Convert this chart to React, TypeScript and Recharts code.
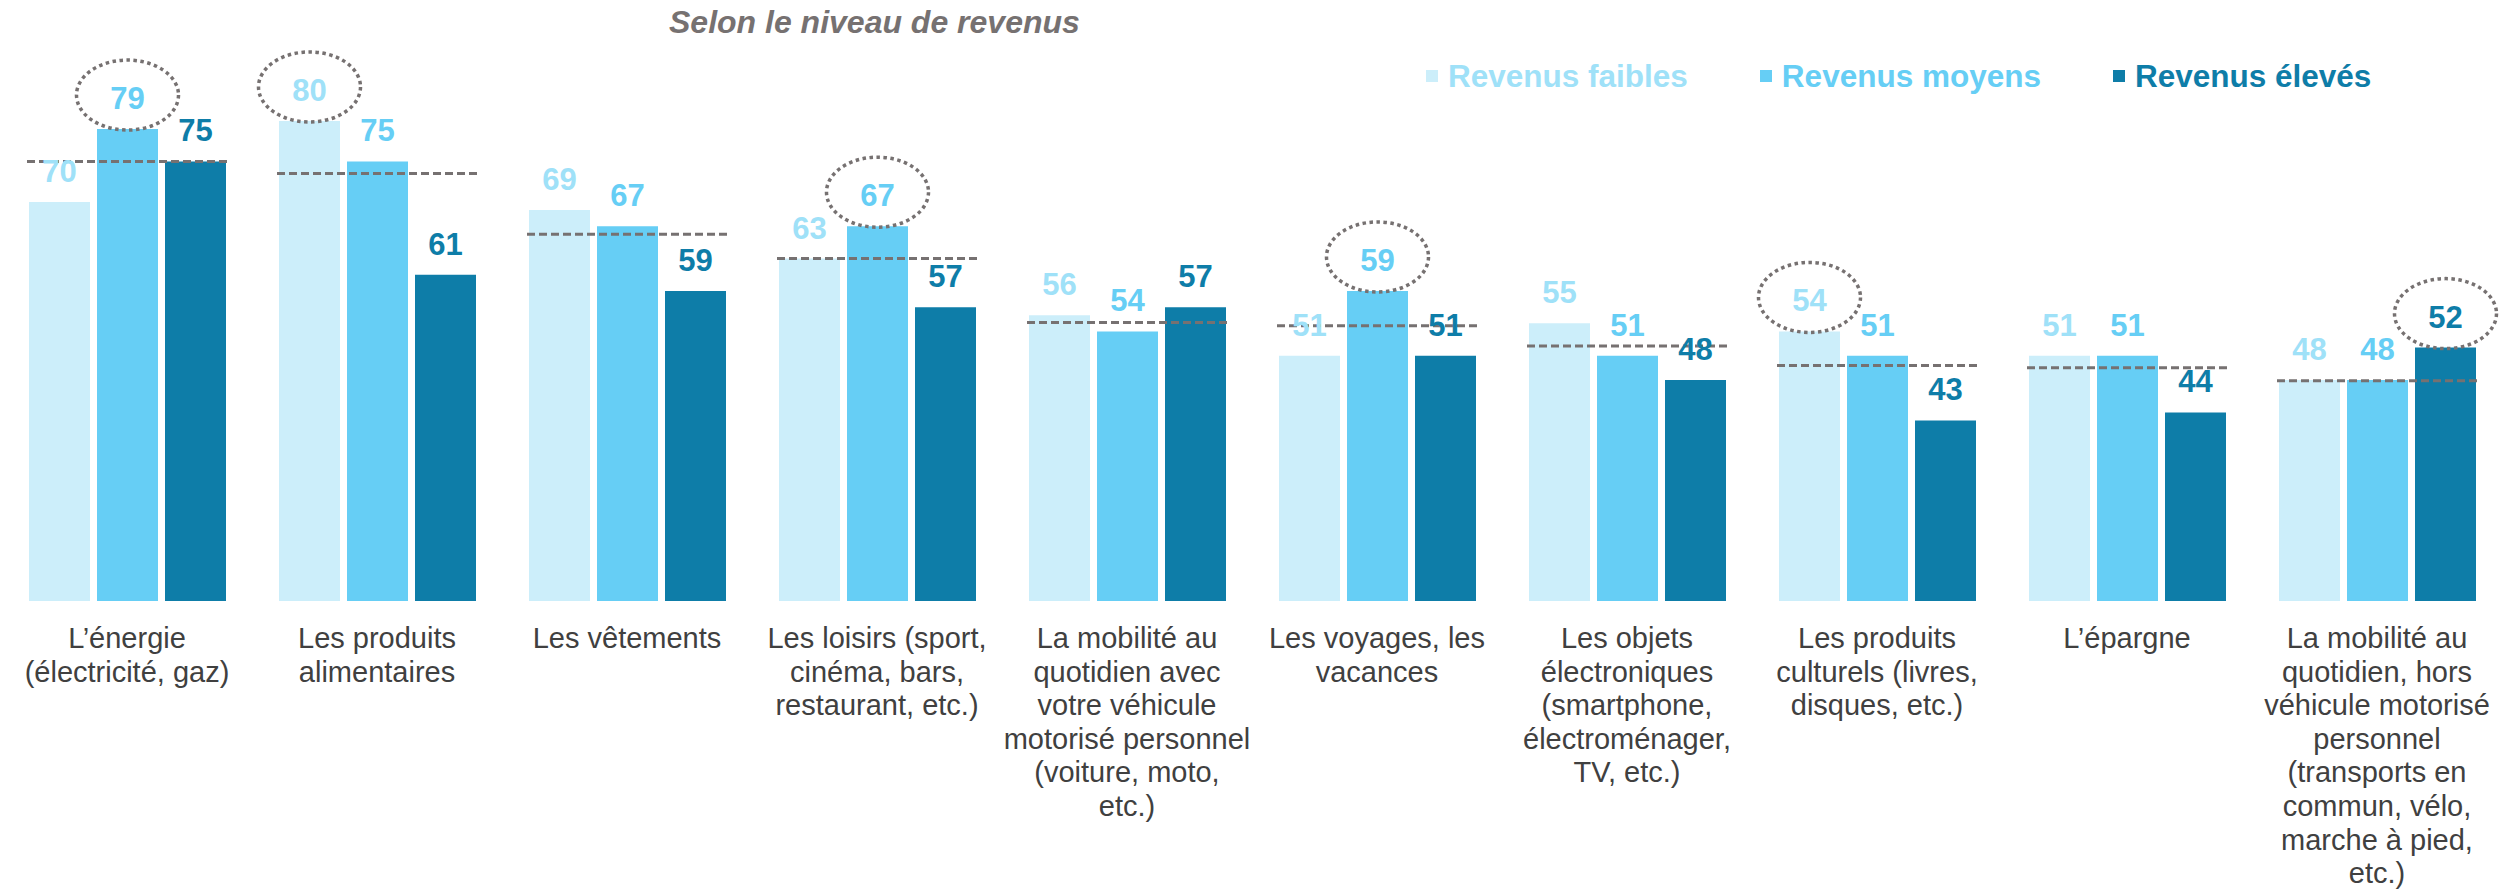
import { ComposedChart, Bar, Line, XAxis, YAxis, LabelList, Legend } from 'recharts'

const FONT = '"Liberation Sans", Arial, Helvetica, sans-serif'

// axis labels, one string per line as in the source
const categories = [
  ['L’énergie', '(électricité, gaz)'],
  ['Les produits', 'alimentaires'],
  ['Les vêtements'],
  ['Les loisirs (sport,', 'cinéma, bars,', 'restaurant, etc.)'],
  ['La mobilité au', 'quotidien avec', 'votre véhicule', 'motorisé personnel', '(voiture, moto,', 'etc.)'],
  ['Les voyages, les', 'vacances'],
  ['Les objets', 'électroniques', '(smartphone,', 'électroménager,', 'TV, etc.)'],
  ['Les produits', 'culturels (livres,', 'disques, etc.)'],
  ['L’épargne'],
  ['La mobilité au', 'quotidien, hors', 'véhicule motorisé', 'personnel', '(transports en', 'commun, vélo,', 'marche à pied,', 'etc.)'],
]

const faibles = [70, 80, 69, 63, 56, 51, 55, 54, 51, 48]
const moyens = [79, 75, 67, 67, 54, 59, 51, 51, 51, 48]
const eleves = [75, 61, 59, 57, 57, 51, 48, 43, 44, 52]
// dashed reference (whole population)
const ensemble = [75.0, 73.5, 66.0, 63.0, 55.1, 54.7, 52.2, 49.8, 49.5, 47.9]
// which value gets the dotted circle in each group
const highlight = ['moyens', 'faibles', null, 'moyens', null, 'moyens', null, 'faibles', null, 'eleves']

const series = [
  { key: 'faibles', name: 'Revenus faibles', fill: '#CCEEFA', text: '#9FE1F8' },
  { key: 'moyens', name: 'Revenus moyens', fill: '#66CEF5', text: '#66CEF5' },
  { key: 'eleves', name: 'Revenus élevés', fill: '#0E7DA8', text: '#0E7DA8' },
]

const data = categories.map((lines, i) => ({
  name: lines.join(' '),
  faibles: faibles[i],
  moyens: moyens[i],
  eleves: eleves[i],
  ensemble: ensemble[i],
}))

const makeLabel = (key: string, color: string) => (p: any) => {
  const cx = Number(p.x) + Number(p.width) / 2
  const top = Number(p.y)
  const circled = highlight[p.index] === key
  return (
    <g key={`lbl-${key}-${p.index}`}>
      {circled && (
        <ellipse cx={cx} cy={top - 34} rx={51} ry={35} fill="none" stroke="#767171"
          strokeWidth={3.5} strokeDasharray="3.5 3.5" />
      )}
      <text x={cx} y={top - 20} textAnchor="middle" fontFamily={FONT} fontSize={31}
        fontWeight={700} fill={color}>{p.value}</text>
    </g>
  )
}

const CategoryTick = (p: any) => {
  const lines = categories[p.index] || []
  return (
    <text x={p.x} y={p.y} textAnchor="middle" fontFamily={FONT} fontSize={29} fill="#404040">
      {lines.map((l, i) => (
        <tspan key={i} x={p.x} dy={i === 0 ? 47 : 33.6}>{l}</tspan>
      ))}
    </text>
  )
}

const avgDash = (p: any) => (
  <line key={`avg-${p.index}`} x1={p.cx - 100} x2={p.cx + 100} y1={p.cy} y2={p.cy}
    stroke="#767171" strokeWidth={3} strokeDasharray="8 4" />
)

const renderLegend = () => (
  <div style={{ display: 'flex', alignItems: 'center', fontFamily: FONT, fontWeight: 700, fontSize: 31.5, lineHeight: '36px', whiteSpace: 'nowrap' }}>
    {series.map((s, i) => (
      <div key={s.key} style={{ display: 'flex', alignItems: 'center', marginLeft: i ? 72 : 0 }}>
        <span style={{ display: 'inline-block', width: 12, height: 12, background: s.fill, marginRight: 10 }} />
        <span style={{ color: s.text }}>{s.name}</span>
      </div>
    ))}
  </div>
)

export default function App() {
  return (
    <div style={{ position: 'absolute', left: 0, top: 0, width: 2502, height: 890, background: '#fff' }}>
      <div style={{ position: 'absolute', left: 669, top: 4, fontFamily: FONT, fontSize: 32, fontWeight: 700, fontStyle: 'italic', color: '#767171', lineHeight: '36px', whiteSpace: 'nowrap' }}>
        Selon le niveau de revenus
      </div>
      <ComposedChart width={2502} height={890} data={data} barGap={7}
        margin={{ top: 40, right: 0, bottom: 9, left: 2 }}>
        <XAxis dataKey="name" height={280} interval={0} axisLine={false} tickLine={false}
          tickSize={0} tickMargin={0} tick={<CategoryTick />} />
        <YAxis hide domain={[20.7, 90]} allowDataOverflow />
        <Legend layout="horizontal" verticalAlign="middle" align="center" content={renderLegend}
          wrapperStyle={{ top: 58, left: 1426, width: 'auto', height: 'auto' }} />
        {series.map((s) => (
          <Bar key={s.key} dataKey={s.key} name={s.name} fill={s.fill} barSize={61} isAnimationActive={false}>
            <LabelList dataKey={s.key} content={makeLabel(s.key, s.text)} />
          </Bar>
        ))}
        <Line dataKey="ensemble" stroke="none" strokeWidth={0} dot={avgDash} activeDot={false}
          legendType="none" isAnimationActive={false} />
      </ComposedChart>
    </div>
  )
}
